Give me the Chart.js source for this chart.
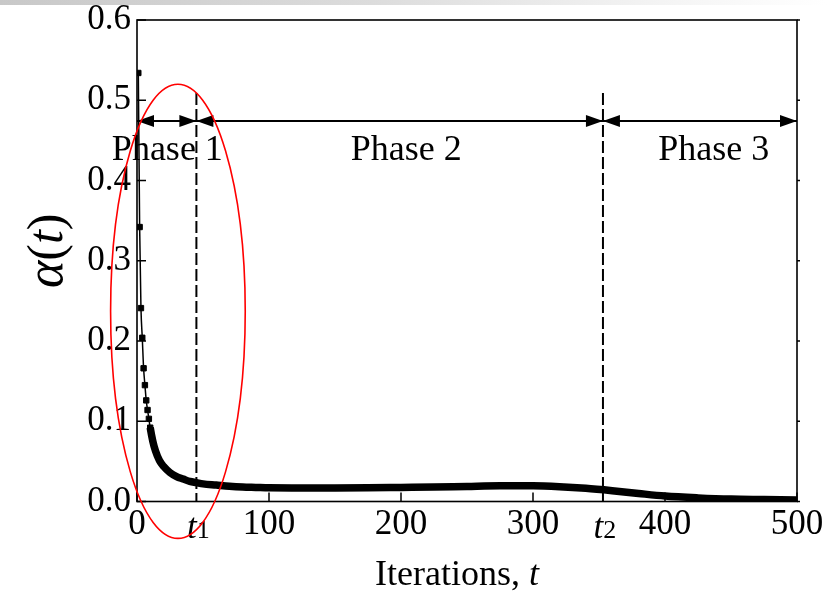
<!DOCTYPE html>
<html>
<head>
<meta charset="utf-8">
<script src="https://cdn.jsdelivr.net/npm/chart.js@4.4.1/dist/chart.umd.min.js"></script>
<style>
  body { margin: 0; background: #fff; }
  #topbar {
    position: absolute; left: 0; top: 0; width: 827px; height: 5px;
    background: linear-gradient(to right, #c8c8c8, #dcdcdc 45%, #f4f4f4 80%, #fff);
  }
  canvas { display: block; }
</style>
</head>
<body>
<div id="topbar"></div>
<canvas id="alphaChart" width="827" height="594"></canvas>
<script>
// alpha(t)
var iterations = [1, 2, 3, 4, 5, 6, 7, 8, 9, 10, 12, 14, 17, 20, 25, 30, 35, 40, 45, 50,
  60, 70, 80, 90, 100, 125, 150, 175, 200, 225, 250, 275, 300, 320, 340, 360, 380,
  400, 425, 450, 475, 500];
var alphaValues = [0.534, 0.342, 0.241, 0.204, 0.166, 0.145, 0.126, 0.114, 0.103, 0.092,
  0.075, 0.063, 0.051, 0.044, 0.036, 0.031, 0.028, 0.025, 0.0235, 0.022,
  0.0205, 0.019, 0.018, 0.0175, 0.017, 0.0168, 0.0168, 0.017, 0.0175, 0.018, 0.0188,
  0.0195, 0.0195, 0.0185, 0.0165, 0.0135, 0.010,
  0.0068, 0.0045, 0.003, 0.0025, 0.002];

// ticks
var xTicks = [0, 100, 200, 300, 400, 500];
var yTicks = [0, 0.1, 0.2, 0.3, 0.4, 0.5, 0.6];

// phases: 0, t1, t2, end
var phaseBounds = [0, 45, 353, 500];
var phaseNames = ["Phase 1", "Phase 2", "Phase 3"];
var boundNames = ["1", "2"]; // subscripts of t1, t2

var serif = "'Liberation Serif', 'Times New Roman', serif";

function px(chart, t) { return chart.scales.x.getPixelForValue(t); }
function py(chart, v) { return chart.scales.y.getPixelForValue(v); }

function arrowHead(ctx, x, y, dir) {
  ctx.beginPath();
  ctx.moveTo(x, y);
  ctx.lineTo(x - dir * 17, y - 6);
  ctx.lineTo(x - dir * 17, y + 6);
  ctx.closePath();
  ctx.fill();
}

// draw pieces of text with own fonts, left to right
function drawParts(ctx, parts, cx, y) {
  var total = 0;
  for (var i = 0; i < parts.length; i++) {
    ctx.font = parts[i].font;
    total += ctx.measureText(parts[i].text).width;
  }
  var x = cx - total / 2;
  ctx.textAlign = "left";
  for (var j = 0; j < parts.length; j++) {
    ctx.font = parts[j].font;
    ctx.fillText(parts[j].text, x, y + (parts[j].dy || 0));
    x += ctx.measureText(parts[j].text).width;
  }
}

var decorPlugin = {
  id: "decor",
  afterDatasetsDraw: function (chart) {
    var ctx = chart.ctx;
    var a = chart.chartArea;
    ctx.save();
    ctx.strokeStyle = "#000";
    ctx.fillStyle = "#000";

    // frame
    ctx.lineWidth = 1.6;
    ctx.strokeRect(a.left, a.top, a.right - a.left, a.bottom - a.top);

    // inner ticks
    ctx.lineWidth = 1.5;
    ctx.beginPath();
    for (var i = 0; i < yTicks.length; i++) {
      var yy = py(chart, yTicks[i]);
      ctx.moveTo(a.left, yy);
      ctx.lineTo(a.left + 9, yy);
      ctx.moveTo(a.right, yy);
      ctx.lineTo(a.right + 3, yy);
    }
    for (var k = 0; k < xTicks.length; k++) {
      var xx = px(chart, xTicks[k]);
      ctx.moveTo(xx, a.bottom);
      ctx.lineTo(xx, a.bottom - 9);
    }
    ctx.stroke();

    // dashed phase lines
    ctx.lineWidth = 2;
    ctx.setLineDash([12, 4]);
    for (var b = 1; b < phaseBounds.length - 1; b++) {
      var bx = px(chart, phaseBounds[b]);
      ctx.beginPath();
      ctx.moveTo(bx, py(chart, 0.509));
      ctx.lineTo(bx, a.bottom);
      ctx.stroke();
    }
    ctx.setLineDash([]);

    // arrows
    var ay = py(chart, 0.474);
    ctx.lineWidth = 2;
    ctx.beginPath();
    ctx.moveTo(px(chart, phaseBounds[0]), ay);
    ctx.lineTo(px(chart, phaseBounds[phaseBounds.length - 1]), ay);
    ctx.stroke();
    for (var p = 0; p < phaseNames.length; p++) {
      arrowHead(ctx, px(chart, phaseBounds[p]), ay, -1);
      arrowHead(ctx, px(chart, phaseBounds[p + 1]), ay, 1);
    }

    // phase names
    var labelX = [23, 204, 437];
    ctx.font = "36px " + serif;
    ctx.textAlign = "center";
    ctx.textBaseline = "alphabetic";
    for (var n = 0; n < phaseNames.length; n++) {
      ctx.fillText(phaseNames[n], px(chart, labelX[n]), py(chart, 0.425));
    }

    // t1, t2 under the axis
    for (var m = 0; m < boundNames.length; m++) {
      drawParts(ctx, [
        { text: "t", font: "italic 35px " + serif },
        { text: boundNames[m], font: "26px " + serif }
      ], px(chart, phaseBounds[m + 1]) + 2, 538);
    }

    // axis titles
    drawParts(ctx, [
      { text: "Iterations, ", font: "36px " + serif },
      { text: "t", font: "italic 36px " + serif }
    ], (a.left + a.right) / 2 - 10, 585);

    ctx.translate(62, (a.top + a.bottom) / 2 - 10);
    ctx.rotate(-Math.PI / 2);
    drawParts(ctx, [
      { text: "\u03b1", font: "italic 52px " + serif },
      { text: "(", font: "50px " + serif },
      { text: "t", font: "italic 50px " + serif },
      { text: ")", font: "50px " + serif }
    ], 0, 0);
    ctx.restore();
  },
  afterDraw: function (chart) {
    // red ellipse around phase 1
    var ctx = chart.ctx;
    var cx = px(chart, 31);
    var cy = py(chart, 0.237);
    var rx = px(chart, 31 + 51) - cx;
    var ry = cy - py(chart, 0.237 + 0.283);
    ctx.save();
    ctx.strokeStyle = "#ff0000";
    ctx.lineWidth = 1.6;
    ctx.beginPath();
    ctx.ellipse(cx, cy, rx, ry, 0, 0, Math.PI * 2);
    ctx.stroke();
    ctx.restore();
  }
};

var points = iterations.map(function (t, i) {
  return { x: t, y: alphaValues[i] };
});

new Chart(document.getElementById("alphaChart").getContext("2d"), {
  type: "line",
  data: {
    datasets: [
      {
        label: "alpha(t)",
        data: points,
        borderColor: "#000",
        backgroundColor: "#000",
        borderWidth: 1.5,
        borderJoinStyle: "round",
        cubicInterpolationMode: "monotone",
        pointStyle: "rect",
        pointRadius: function (c) { return c.dataIndex < 10 ? 3.8 : 0; },
        pointBorderWidth: 1,
        segment: {
          borderWidth: function (c) { return c.p0DataIndex < 9 ? 1.5 : 7.5; }
        }
      }
    ]
  },
  options: {
    responsive: false,
    maintainAspectRatio: false,
    animation: false,
    layout: { padding: 0 },
    plugins: { legend: { display: false }, tooltip: { enabled: false } },
    scales: {
      x: {
        type: "linear",
        min: 0,
        max: 500,
        grid: { display: false, drawTicks: false },
        border: { display: false },
        afterBuildTicks: function (s) {
          s.ticks = xTicks.map(function (v) { return { value: v }; });
        },
        ticks: {
          autoSkip: false,
          maxRotation: 0,
          padding: 3,
          color: "#000",
          font: { family: serif, size: 35, lineHeight: 1.15 }
        },
        afterFit: function (s) { s.height = 92.5; }
      },
      y: {
        min: 0,
        max: 0.6,
        grid: { display: false, drawTicks: false },
        border: { display: false },
        afterBuildTicks: function (s) {
          s.ticks = yTicks.map(function (v) { return { value: v }; });
        },
        ticks: {
          padding: 6,
          color: "#000",
          font: { family: serif, size: 35, lineHeight: 0.8 },
          callback: function (v) { return v.toFixed(1); }
        },
        afterFit: function (s) { s.width = 137; }
      },
      y2: {
        position: "right",
        min: 0,
        max: 0.6,
        grid: { display: false },
        border: { display: false },
        ticks: { display: false },
        afterFit: function (s) { s.width = 30; }
      }
    }
  },
  plugins: [decorPlugin]
});
</script>
</body>
</html>
